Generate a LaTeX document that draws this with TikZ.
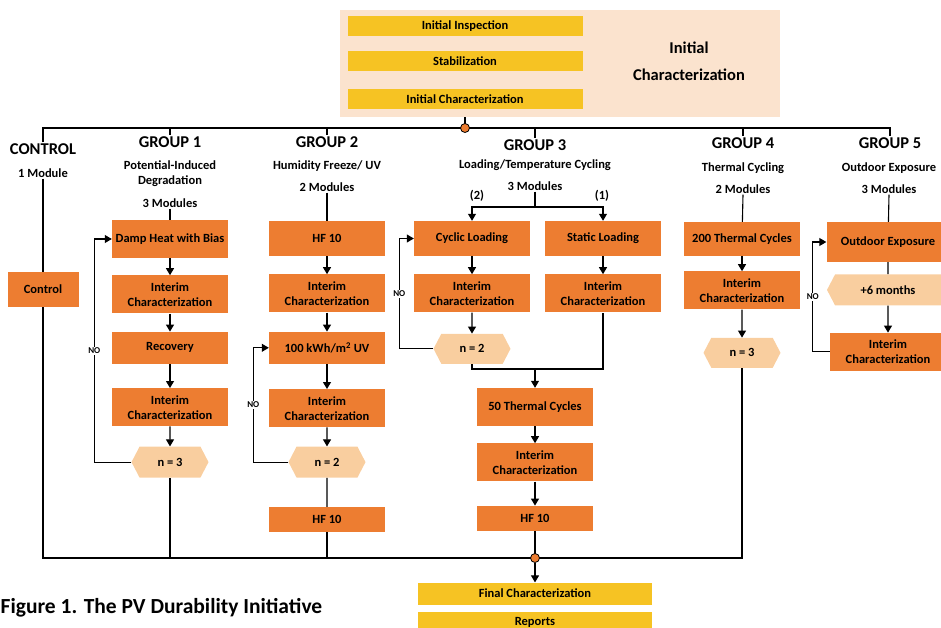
\documentclass[tikz,border=0pt]{standalone}
\usepackage{fontspec}
\setmainfont{Carlito}
\usetikzlibrary{shapes.symbols, arrows.meta, positioning}

\definecolor{boxorange}{HTML}{ED7D31}
\definecolor{boxgold}{HTML}{F6C323}
\definecolor{initpeach}{HTML}{FBE3CE}
\definecolor{hexpeach}{HTML}{F9CE9F}

\begin{document}
\begin{tikzpicture}[
    x=1pt, y=-1pt,
    node distance=18pt,
    proc/.style={rectangle, fill=boxorange, minimum width=116pt, minimum height=38pt, text centered, align=center, font=\fontsize{12.5}{15}\selectfont\bfseries},
    shortproc/.style={proc, minimum height=32pt},
    initstep/.style={rectangle, fill=boxgold, minimum width=235pt, minimum height=20pt, inner sep=1pt, font=\fontsize{12.5}{13}\selectfont\bfseries},
    counter/.style={signal, signal to=east and west, signal pointer angle=125, fill=hexpeach, minimum width=77pt, minimum height=31pt, font=\fontsize{12.5}{14}\selectfont\bfseries},
    grouptitle/.style={font=\fontsize{16.5}{20}\selectfont\bfseries, inner sep=1pt},
    groupinfo/.style={align=center, font=\fontsize{12.5}{15}\selectfont\bfseries, inner sep=1pt},
    nolabel/.style={fill=white, font=\fontsize{9}{10}\selectfont\bfseries, inner sep=1pt},
    joint/.style={circle, fill=boxorange, draw=black, line width=0.8pt, inner sep=0pt, minimum size=9pt},
    arrow/.style={-{Triangle[length=7pt,width=8pt]}, line width=1.1pt},
    link/.style={line width=1.1pt}
]

\useasboundingbox (0,0) rectangle (941,628);
\clip (0,0) rectangle (941,628);

% Initial characterization
\node[fill=initpeach, minimum width=440pt, minimum height=107pt] (initbg) at (559.5,63.5) {};
\node[initstep] (insp) at (465,26) {Initial Inspection};
\node[initstep, below=15pt of insp] (stab) {Stabilization};
\node[initstep, below=17pt of stab] (initc) {Initial Characterization};
\node[align=center, font=\fontsize{16.5}{27}\selectfont\bfseries] (inittxt) at (689,61.5) {Initial\\Characterization};

% Control
\node[grouptitle] (ctrlt) at (43,149) {CONTROL};
\node[groupinfo] (ctrlm) at (43,173) {1 Module};
\node[proc, minimum width=71pt, minimum height=35pt] (ctrl) at (43,289.5) {Control};

% Group 1
\node[grouptitle] (g1t) at (170,142) {GROUP 1};
\node[groupinfo] (g1s) at (170,174) {Potential-Induced\\Degradation};
\node[groupinfo] (g1m) at (170,203) {3 Modules};
\node[proc] (g1dh) at (170,239) {Damp Heat with Bias};
\node[proc, below=17pt of g1dh] (g1ic1) {Interim\\Characterization};
\node[shortproc, below=18pt of g1ic1] (g1rec) {Recovery};
\node[proc, below=24pt of g1rec] (g1ic2) {Interim\\Characterization};
\node[counter, below=20pt of g1ic2] (g1hex) {n = 3};

% Group 2
\node[grouptitle] (g2t) at (327,142) {GROUP 2};
\node[groupinfo] (g2s) at (327,166) {Humidity Freeze/ UV};
\node[groupinfo] (g2m) at (327,187) {2 Modules};
\node[proc, minimum height=35pt] (g2hf) at (327,238.5) {HF 10};
\node[proc, below=18pt of g2hf] (g2ic1) {Interim\\Characterization};
\node[shortproc, below=19pt of g2ic1] (g2uv) {100 kWh/m\textsuperscript{2} UV};
\node[proc, below=25pt of g2uv] (g2ic2) {Interim\\Characterization};
\node[counter, below=19pt of g2ic2] (g2hex) {n = 2};
\node[proc, minimum height=25pt, below=29pt of g2hex] (g2hf2) {HF 10};

% Group 3
\node[grouptitle] (g3t) at (535,145) {GROUP 3};
\node[groupinfo] (g3s) at (535,165) {Loading/Temperature Cycling};
\node[groupinfo] (g3m) at (535,186) {3 Modules};
\node[groupinfo] (g3a) at (477,196) {(2)};
\node[groupinfo] (g3b) at (602,196) {(1)};
\node[proc, minimum height=35pt] (g3cl) at (472,238.5) {Cyclic Loading};
\node[proc, below=18pt of g3cl] (g3ic1) {Interim\\Characterization};
\node[counter, minimum height=30pt, below=21pt of g3ic1] (g3hex) {n = 2};
\node[proc, minimum height=35pt] (g3sl) at (603,238.5) {Static Loading};
\node[proc, below=18pt of g3sl] (g3ic2) {Interim\\Characterization};
\node[proc] (g3tc) at (535,407) {50 Thermal Cycles};
\node[proc, below=17pt of g3tc] (g3ic3) {Interim\\Characterization};
\node[proc, minimum height=25pt, below=24pt of g3ic3] (g3hf) {HF 10};

% Group 4
\node[grouptitle] (g4t) at (743,143) {GROUP 4};
\node[groupinfo] (g4s) at (743,168) {Thermal Cycling};
\node[groupinfo] (g4m) at (743,189) {2 Modules};
\node[proc, minimum height=34pt] (g4tc) at (742,239) {200 Thermal Cycles};
\node[proc, below=15pt of g4tc] (g4ic) {Interim\\Characterization};
\node[counter, minimum height=30pt, below=28pt of g4ic] (g4hex) {n = 3};

% Group 5
\node[grouptitle] (g5t) at (890,143) {GROUP 5};
\node[groupinfo] (g5s) at (889,168) {Outdoor Exposure};
\node[groupinfo] (g5m) at (889,189) {3 Modules};
\node[proc, minimum width=123pt, minimum height=40pt] (g5oe) at (888,242) {Outdoor Exposure};
\node[counter, minimum width=122pt, below=12pt of g5oe] (g5hex) {+6 months};
\node[proc, below=27pt of g5hex] (g5ic) {Interim\\Characterization};

% Caption
\node[anchor=base west, inner sep=0pt, font=\fontsize{21.5}{24}\selectfont\bfseries] (caption) at (0.5,613) {Figure 1. The PV Durability Initiative};

% Top bus
\coordinate (topjoin) at (465,128);
\draw[link] (initc.south |- initbg.south) -- (topjoin);
\draw[link] (ctrlt.north) -- (ctrlt.north |- topjoin) -- (g5t.north |- topjoin) -- (g5t.north);
\draw[link] (g1t.north |- topjoin) -- (g1t.north);
\draw[link] (g2t.north |- topjoin) -- (g2t.north);
\draw[link] (g3t.north |- topjoin) -- (g3t.north);
\draw[link] (g4t.north |- topjoin) -- (g4t.north);

% Bottom bus
\coordinate (botbus) at (535,558);
\draw[link] (ctrlm.south) -- (ctrl);
\draw[link] (ctrl.south) |- (g4hex.south |- botbus) -- (g4hex.south);

% Group 1 flow
\draw[link] (g1m.south) -- (g1dh);
\draw[arrow] (g1dh) -- (g1ic1);
\draw[arrow] (g1ic1) -- (g1rec);
\draw[arrow] (g1rec) -- (g1ic2);
\draw[arrow] (g1ic2) -- (g1hex);
\draw[arrow] (g1hex.west) -- ++(-37,0) |- node[nolabel, pos=0.25] {NO} (g1dh.west);
\draw[link] (g1hex.south) -- (g1hex.south |- botbus);

% Group 2 flow
\draw[link] (g2m.south) -- (g2hf);
\draw[arrow] (g2hf) -- (g2ic1);
\draw[arrow] (g2ic1) -- (g2uv);
\draw[arrow] (g2uv) -- (g2ic2);
\draw[arrow] (g2ic2) -- (g2hex);
\draw[arrow] (g2hex.west) -- ++(-35,0) |- node[nolabel, pos=0.25] {NO} (g2uv.west);
\draw[link] (g2hex) -- (g2hf2);
\draw[link] (g2hf2.south) -- (g2hf2.south |- botbus);

% Group 3 flow
\coordinate (g3split) at (535,207);
\draw[link] (g3m.south) -- (g3split);
\draw[arrow] (g3split) -| (g3cl);
\draw[arrow] (g3split) -| (g3sl);
\draw[arrow] (g3cl) -- (g3ic1);
\draw[arrow] (g3ic1) -- (g3hex);
\draw[arrow] (g3hex.west) -- ++(-34,0) |- node[nolabel, pos=0.25] {NO} (g3cl.west);
\draw[arrow] (g3sl) -- (g3ic2);
\coordinate (g3join) at (535,369);
\draw[link] (g3hex.south) |- (g3join) -| (g3ic2.south);
\draw[arrow] (g3join) -- (g3tc);
\draw[arrow] (g3tc) -- (g3ic3);
\draw[arrow] (g3ic3) -- (g3hf);
\draw[link] (g3hf.south) -- (botbus);

% Group 4 flow
\draw[link] (g4m.south) -- (g4tc);
\draw[arrow] (g4tc) -- (g4ic);
\draw[arrow] (g4ic) -- (g4hex);

% Group 5 flow
\draw[link] (g5m.south) -- (g5oe);
\draw[link] (g5oe) -- (g5hex);
\draw[arrow] (g5hex) -- (g5ic);
\draw[arrow] (g5ic.west) -- ++(-17,0) |- node[nolabel, pos=0.25] {NO} (g5oe.west);

% Joints and final steps
\node[joint] (topdot) at (topjoin) {};
\node[joint] (botdot) at (botbus) {};
\node[initstep, minimum width=234pt, minimum height=22pt, below=19.5pt of botdot] (final) {Final Characterization};
\node[initstep, minimum width=234pt, below=7pt of final] (reports) {Reports};
\draw[arrow] (botdot) -- (final);

\end{tikzpicture}
\end{document}
